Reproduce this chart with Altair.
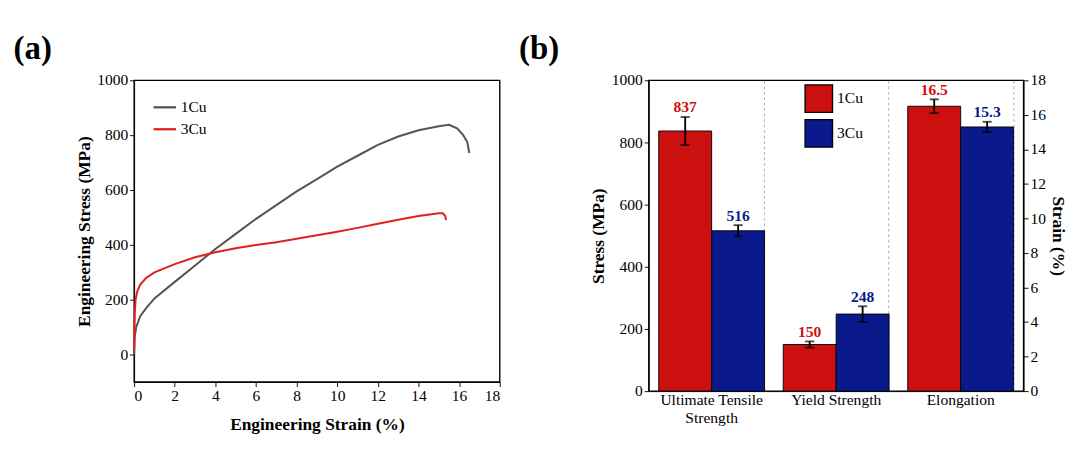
import altair as alt
import pandas as pd

FONT = "Liberation Serif"

# panel (a): stress-strain curves
cu1_strain = [0, 0.02, 0.1, 0.3, 0.6, 1, 2, 3, 4, 5, 6, 7, 8, 9, 10, 11, 12, 13, 14, 15, 15.5, 15.9, 16.2, 16.4, 16.5]
cu1_stress = [0, 60, 100, 140, 170, 205, 265, 325, 385, 440, 495, 545, 595, 640, 685, 725, 765, 795, 818, 833, 838, 825, 800, 775, 735]
cu3_strain = [0, 0.03, 0.07, 0.15, 0.3, 0.6, 1, 2, 3, 4, 5, 6, 7, 8, 9, 10, 11, 12, 13, 14, 15, 15.2, 15.32, 15.35]
cu3_stress = [20, 150, 200, 230, 255, 280, 300, 330, 355, 373, 388, 400, 410, 422, 435, 448, 462, 477, 492, 505, 515, 515, 505, 490]

# panel (b): properties
props = ["Ultimate Tensile Strength", "Ultimate Tensile Strength", "Yield Strength", "Yield Strength", "Elongation", "Elongation"]
alloys = ["1Cu", "3Cu", "1Cu", "3Cu", "1Cu", "3Cu"]
values = [837, 516, 150, 248, 16.5, 15.3]
errors = [45, 18, 10, 25, 0.4, 0.3]
labels = ["837", "516", "150", "248", "16.5", "15.3"]

rows = []
for i in range(len(cu1_strain)):
    rows.append({"strain": cu1_strain[i], "stress": cu1_stress[i], "alloy": "1Cu", "o": i})
for i in range(len(cu3_strain)):
    rows.append({"strain": cu3_strain[i], "stress": cu3_stress[i], "alloy": "3Cu", "o": i})
curves = pd.DataFrame(rows)

bars_df = pd.DataFrame({"prop": props, "alloy": alloys, "value": values, "err": errors, "label": labels})
scale = [1 if p != "Elongation" else 1000 / 18 for p in props]
bars_df["v"] = bars_df["value"] * scale
bars_df["lo"] = (bars_df["value"] - bars_df["err"]) * scale
bars_df["hi"] = (bars_df["value"] + bars_df["err"]) * scale

axis_style = dict(labelFont=FONT, titleFont=FONT, labelFontSize=17, titleFontSize=19,
                  labelColor="black", titleColor="black", domainColor="black", tickColor="black",
                  grid=False, labelFontWeight="normal", titleFontWeight="bold")

line_a = alt.Chart(curves).mark_line(strokeWidth=2.2).encode(
    x=alt.X("strain:Q", scale=alt.Scale(domain=[0, 18], nice=False),
            axis=alt.Axis(title="Engineering Strain (%)", values=list(range(0, 19, 2)), titlePadding=14, **axis_style)),
    y=alt.Y("stress:Q", scale=alt.Scale(domain=[-100, 1000], nice=False),
            axis=alt.Axis(title="Engineering Stress (MPa)", format="d", values=list(range(0, 1001, 200)), **axis_style)),
    color=alt.Color("alloy:N", scale=alt.Scale(domain=["1Cu", "3Cu"], range=["#555555", "#e02020"]),
                    legend=alt.Legend(title=None, orient="none", legendX=20, legendY=16, symbolType="stroke",
                                      symbolStrokeWidth=2.5, symbolSize=600, labelFont=FONT, labelFontSize=17)),
    order="o:Q",
).properties(width=400, height=330,
             title=alt.TitleParams("(a)", anchor="start", dx=-68, dy=-2, font=FONT, fontSize=36, fontWeight="bold"))

colors = alt.Scale(domain=["1Cu", "3Cu"], range=["#cc1010", "#0a1a8c"])
xenc = alt.X("prop:N", sort=["Ultimate Tensile Strength", "Yield Strength", "Elongation"],
             scale=alt.Scale(paddingInner=0.15, paddingOuter=0.08),
             axis=alt.Axis(title=None, labelAngle=0, ticks=False, grid=True, gridDash=[3, 3], gridColor="#aaaaaa",
                           bandPosition=1,
                           labelExpr="datum.label == 'Ultimate Tensile Strength' ? ['Ultimate Tensile', 'Strength'] : datum.label",
                           **{k: v for k, v in axis_style.items() if k != "grid"}))
ybar = alt.Scale(domain=[0, 1000], nice=False)
base = alt.Chart(bars_df).encode(x=xenc, xOffset=alt.XOffset("alloy:N", sort=["1Cu", "3Cu"]))
bars = base.mark_bar(stroke="black", strokeWidth=1).encode(
    y=alt.Y("v:Q", scale=ybar, axis=alt.Axis(title="Stress (MPa)", format="d", values=list(range(0, 1001, 200)), **axis_style)),
    color=alt.Color("alloy:N", scale=colors,
                    legend=alt.Legend(title=None, orient="none", legendX=170, legendY=4, symbolType="square",
                                      symbolSize=900, symbolStrokeColor="black", labelFont=FONT, labelFontSize=17,
                                      rowPadding=2)),
)
err = base.mark_errorbar(ticks=alt.TickConfig(size=10, thickness=2), thickness=2, color="black").encode(
    y=alt.Y("lo:Q", scale=ybar, title=""), y2="hi:Q")
txt = base.mark_text(dy=-10, font=FONT, fontSize=17, fontWeight="bold").encode(
    y=alt.Y("hi:Q", scale=ybar), text="label:N",
    color=alt.Color("alloy:N", scale=alt.Scale(domain=["1Cu", "3Cu"], range=["#d0203a", "#1a30c0"]), legend=None))
left = alt.layer(bars, err, txt)
right = alt.Chart(pd.DataFrame({"s": [0, 18]})).mark_point(opacity=0).encode(
    y=alt.Y("s:Q", scale=alt.Scale(domain=[0, 18], nice=False),
            axis=alt.Axis(title="Strain (%)", orient="right", values=list(range(0, 19, 2)), **axis_style)))
panel_b = alt.layer(left, right).resolve_scale(y="independent", color="independent").properties(
    width=410, height=340,
    title=alt.TitleParams("(b)", anchor="start", dx=-78, dy=-2, font=FONT, fontSize=36, fontWeight="bold"))

chart = alt.hconcat(line_a, panel_b, spacing=18).configure_view(stroke="black", strokeWidth=1.5)
chart.save("out.html", embed_options={"renderer": "svg", "actions": False})
